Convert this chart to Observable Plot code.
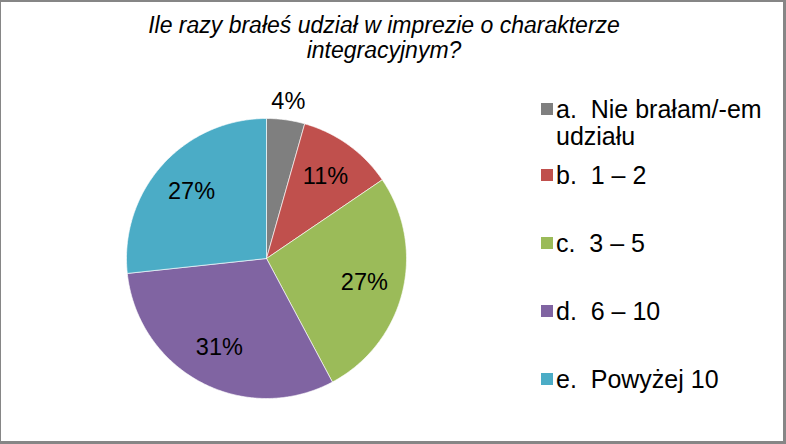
<!DOCTYPE html>
<html>
<head>
<meta charset="utf-8">
<script src="https://cdn.jsdelivr.net/npm/d3@7"></script>
<script src="https://cdn.jsdelivr.net/npm/@observablehq/plot@0.6"></script>
<style>
  html, body { margin: 0; padding: 0; background: #fff; }
  #frame {
    position: relative; width: 786px; height: 444px; box-sizing: border-box;
    border-style: solid; border-color: #868686;
    border-width: 2px 3px 3px 1px; overflow: hidden;
    font-family: "Liberation Sans", Arial, sans-serif; color: #000;
  }
  #title {
    position: absolute; left: 83px; top: 11px; width: 600px;
    text-align: center; font-style: italic; font-size: 23px; line-height: 25px;
  }
  #pie { position: absolute; left: 114px; top: 105px; }
  #legend { position: absolute; left: 540px; top: -2px; }
  .item { position: absolute; left: 0; font-size: 25px; line-height: 27px; white-space: nowrap; }
  .sw { position: absolute; left: 0; top: 7px; width: 12px; height: 12px; }
  .lab { position: absolute; left: 15px; top: 0; }
</style>
</head>
<body>
<div id="frame">
  <div id="title">Ile razy brałeś udział w imprezie o charakterze integracyjnym?</div>
  <div id="pie"></div>
  <div id="legend"></div>
</div>
<script>
const categories = ["a.  Nie brałam/-em udziału", "b.  1 – 2", "c.  3 – 5", "d.  6 – 10", "e.  Powyżej 10"];
const legendLines = [["a.\u00a0\u00a0Nie brałam/-em", "udziału"], ["b.\u00a0\u00a01 – 2"], ["c.\u00a0\u00a03 – 5"], ["d.\u00a0\u00a06 – 10"], ["e.\u00a0\u00a0Powyżej 10"]];
const values = [4.4, 11.1, 26.7, 31.1, 26.7];
const colors = ["#7f7f7f", "#c0504d", "#9bbb59", "#8064a2", "#4bacc6"];

const total = d3.sum(values);
const arcs = d3.pie().sort(null).value(d => d)(values);

// slice outlines computed from pie angles
const slicePts = [];
arcs.forEach((a, i) => {
  slicePts.push({cat: categories[i], x: 0, y: 0});
  const n = Math.max(2, Math.ceil((a.endAngle - a.startAngle) / 0.01));
  for (let k = 0; k <= n; k++) {
    const t = a.startAngle + (a.endAngle - a.startAngle) * k / n;
    slicePts.push({cat: categories[i], x: Math.sin(t), y: Math.cos(t)});
  }
  slicePts.push({cat: categories[i], x: 0, y: 0});
});

const labels = arcs.map((a, i) => {
  const mid = (a.startAngle + a.endAngle) / 2;
  const share = values[i] / total;
  const r = share < 0.05 ? 1.13 : 0.72;
  return {cat: categories[i], x: r * Math.sin(mid), y: r * Math.cos(mid), text: Math.round(share * 100) + "%"};
});

const chart = Plot.plot({
  width: 302, height: 302,
  marginTop: 11, marginBottom: 11, marginLeft: 11, marginRight: 11,
  x: {domain: [-1, 1], axis: null},
  y: {domain: [-1, 1], axis: null},
  color: {domain: categories, range: colors},
  style: {overflow: "visible", fontFamily: "'Liberation Sans', Arial, sans-serif"},
  marks: [
    Plot.line(slicePts, {x: "x", y: "y", z: "cat", fill: "cat", stroke: "#ffffff", strokeWidth: 0.8, strokeOpacity: 0.8, curve: "linear"}),
    Plot.text(labels, {x: "x", y: "y", text: "text", fontSize: 23.5, fill: "#000"})
  ]
});
document.getElementById("pie").appendChild(chart);

const tops = [96, 162, 230, 298, 366];
const legend = document.getElementById("legend");
categories.forEach((c, i) => {
  const item = document.createElement("div");
  item.className = "item";
  item.style.top = tops[i] + "px";
  const sw = document.createElement("div");
  sw.className = "sw";
  sw.style.background = colors[i];
  const lab = document.createElement("div");
  lab.className = "lab";
  lab.innerHTML = legendLines[i].join("<br>");
  item.appendChild(sw); item.appendChild(lab);
  legend.appendChild(item);
});
</script>
</body>
</html>
